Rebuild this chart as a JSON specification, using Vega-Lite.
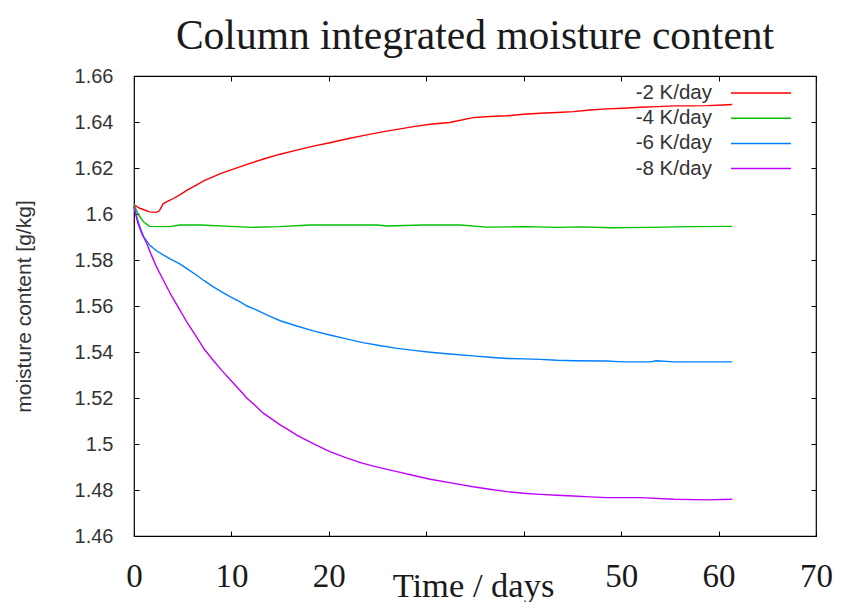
{
  "$schema": "https://vega.github.io/schema/vega-lite/v6.json",
  "width": 682,
  "height": 460,
  "autosize": {"type": "none"},
  "padding": {"left": 134, "top": 76, "right": 37, "bottom": 66},
  "background": "white",
  "title": {"text": "Column integrated moisture content", "font": "Liberation Serif", "fontSize": 41.5, "fontWeight": "normal", "color": "#1a1a1a", "anchor": "middle", "offset": 17, "baseline": "alphabetic", "dy": 41},
  "config": {"view": {"stroke": "#000", "strokeWidth": 1.2}, "axis": {"grid": false, "domain": false}},
  "data": {"values": [
      {"series": "-2 K/day", "day": 0, "moisture": 1.604},
      {"series": "-2 K/day", "day": 0.6, "moisture": 1.6025},
      {"series": "-2 K/day", "day": 1.6, "moisture": 1.6009},
      {"series": "-2 K/day", "day": 2.3, "moisture": 1.6007},
      {"series": "-2 K/day", "day": 2.6, "moisture": 1.6014},
      {"series": "-2 K/day", "day": 3.0, "moisture": 1.6045},
      {"series": "-2 K/day", "day": 3.8, "moisture": 1.6062},
      {"series": "-2 K/day", "day": 4.7, "moisture": 1.6083},
      {"series": "-2 K/day", "day": 5.5, "moisture": 1.6105},
      {"series": "-2 K/day", "day": 6.4, "moisture": 1.6126},
      {"series": "-2 K/day", "day": 7.2, "moisture": 1.6145},
      {"series": "-2 K/day", "day": 8.1, "moisture": 1.6161},
      {"series": "-2 K/day", "day": 9.0, "moisture": 1.6178},
      {"series": "-2 K/day", "day": 9.9, "moisture": 1.6191},
      {"series": "-2 K/day", "day": 11.6, "moisture": 1.6216},
      {"series": "-2 K/day", "day": 13.3, "moisture": 1.6239},
      {"series": "-2 K/day", "day": 15.0, "moisture": 1.626},
      {"series": "-2 K/day", "day": 16.7, "moisture": 1.6278},
      {"series": "-2 K/day", "day": 18.4, "moisture": 1.6295},
      {"series": "-2 K/day", "day": 20.1, "moisture": 1.631},
      {"series": "-2 K/day", "day": 21.8, "moisture": 1.6326},
      {"series": "-2 K/day", "day": 23.5, "moisture": 1.6341},
      {"series": "-2 K/day", "day": 25.2, "moisture": 1.6355},
      {"series": "-2 K/day", "day": 27.0, "moisture": 1.6368},
      {"series": "-2 K/day", "day": 28.7, "moisture": 1.638},
      {"series": "-2 K/day", "day": 30.4, "moisture": 1.639},
      {"series": "-2 K/day", "day": 32.4, "moisture": 1.6398},
      {"series": "-2 K/day", "day": 34.8, "moisture": 1.6419},
      {"series": "-2 K/day", "day": 36.5, "moisture": 1.6424},
      {"series": "-2 K/day", "day": 38.3, "moisture": 1.6427},
      {"series": "-2 K/day", "day": 40.0, "moisture": 1.6434},
      {"series": "-2 K/day", "day": 41.7, "moisture": 1.6438},
      {"series": "-2 K/day", "day": 43.4, "moisture": 1.6441},
      {"series": "-2 K/day", "day": 45.1, "moisture": 1.6445},
      {"series": "-2 K/day", "day": 46.8, "moisture": 1.6452},
      {"series": "-2 K/day", "day": 48.5, "moisture": 1.6457},
      {"series": "-2 K/day", "day": 50.2, "moisture": 1.646},
      {"series": "-2 K/day", "day": 52.0, "moisture": 1.6464},
      {"series": "-2 K/day", "day": 53.7, "moisture": 1.6467},
      {"series": "-2 K/day", "day": 55.4, "moisture": 1.647},
      {"series": "-2 K/day", "day": 57.1, "moisture": 1.647},
      {"series": "-2 K/day", "day": 58.8, "moisture": 1.6471},
      {"series": "-2 K/day", "day": 60.5, "moisture": 1.6474},
      {"series": "-2 K/day", "day": 61.4, "moisture": 1.6476},
      {"series": "-4 K/day", "day": 0, "moisture": 1.604},
      {"series": "-4 K/day", "day": 0.3, "moisture": 1.601},
      {"series": "-4 K/day", "day": 0.6, "moisture": 1.5988},
      {"series": "-4 K/day", "day": 1.0, "moisture": 1.5965},
      {"series": "-4 K/day", "day": 1.6, "moisture": 1.5946},
      {"series": "-4 K/day", "day": 3.7, "moisture": 1.5945},
      {"series": "-4 K/day", "day": 4.7, "moisture": 1.5952},
      {"series": "-4 K/day", "day": 6.8, "moisture": 1.5952},
      {"series": "-4 K/day", "day": 9.9, "moisture": 1.5946},
      {"series": "-4 K/day", "day": 12.2, "moisture": 1.5942},
      {"series": "-4 K/day", "day": 14.9, "moisture": 1.5945},
      {"series": "-4 K/day", "day": 18.1, "moisture": 1.5952},
      {"series": "-4 K/day", "day": 24.9, "moisture": 1.5952},
      {"series": "-4 K/day", "day": 26.0, "moisture": 1.5948},
      {"series": "-4 K/day", "day": 29.7, "moisture": 1.5952},
      {"series": "-4 K/day", "day": 33.5, "moisture": 1.5952},
      {"series": "-4 K/day", "day": 36.2, "moisture": 1.5943},
      {"series": "-4 K/day", "day": 40.3, "moisture": 1.5945},
      {"series": "-4 K/day", "day": 43.4, "moisture": 1.5942},
      {"series": "-4 K/day", "day": 46.0, "moisture": 1.5944},
      {"series": "-4 K/day", "day": 48.9, "moisture": 1.594},
      {"series": "-4 K/day", "day": 53.0, "moisture": 1.5942},
      {"series": "-4 K/day", "day": 57.1, "moisture": 1.5945},
      {"series": "-4 K/day", "day": 61.4, "moisture": 1.5946},
      {"series": "-6 K/day", "day": 0, "moisture": 1.6032},
      {"series": "-6 K/day", "day": 0.3, "moisture": 1.5985},
      {"series": "-6 K/day", "day": 0.6, "moisture": 1.5945},
      {"series": "-6 K/day", "day": 1.0, "moisture": 1.59},
      {"series": "-6 K/day", "day": 1.6, "moisture": 1.5865},
      {"series": "-6 K/day", "day": 2.3, "moisture": 1.584},
      {"series": "-6 K/day", "day": 3.0, "moisture": 1.5822},
      {"series": "-6 K/day", "day": 3.8, "moisture": 1.5803},
      {"series": "-6 K/day", "day": 4.7, "moisture": 1.5783},
      {"series": "-6 K/day", "day": 5.5, "moisture": 1.576},
      {"series": "-6 K/day", "day": 6.4, "moisture": 1.5735},
      {"series": "-6 K/day", "day": 7.2, "moisture": 1.571},
      {"series": "-6 K/day", "day": 8.1, "moisture": 1.5684},
      {"series": "-6 K/day", "day": 9.0, "moisture": 1.5661},
      {"series": "-6 K/day", "day": 9.9, "moisture": 1.564},
      {"series": "-6 K/day", "day": 10.8, "moisture": 1.562},
      {"series": "-6 K/day", "day": 11.6, "moisture": 1.56},
      {"series": "-6 K/day", "day": 12.5, "moisture": 1.5584},
      {"series": "-6 K/day", "day": 13.3, "moisture": 1.5568},
      {"series": "-6 K/day", "day": 14.2, "moisture": 1.5551},
      {"series": "-6 K/day", "day": 15.0, "moisture": 1.5536},
      {"series": "-6 K/day", "day": 15.9, "moisture": 1.5524},
      {"series": "-6 K/day", "day": 16.7, "moisture": 1.5513},
      {"series": "-6 K/day", "day": 18.4, "moisture": 1.5492},
      {"series": "-6 K/day", "day": 20.1, "moisture": 1.5474},
      {"series": "-6 K/day", "day": 21.8, "moisture": 1.5457},
      {"series": "-6 K/day", "day": 23.5, "moisture": 1.5441},
      {"series": "-6 K/day", "day": 25.2, "moisture": 1.5428},
      {"series": "-6 K/day", "day": 27.0, "moisture": 1.5416},
      {"series": "-6 K/day", "day": 28.7, "moisture": 1.5407},
      {"series": "-6 K/day", "day": 30.4, "moisture": 1.5399},
      {"series": "-6 K/day", "day": 32.4, "moisture": 1.5391},
      {"series": "-6 K/day", "day": 34.8, "moisture": 1.5383},
      {"series": "-6 K/day", "day": 36.5, "moisture": 1.5377},
      {"series": "-6 K/day", "day": 38.3, "moisture": 1.5372},
      {"series": "-6 K/day", "day": 40.0, "moisture": 1.537},
      {"series": "-6 K/day", "day": 41.7, "moisture": 1.5368},
      {"series": "-6 K/day", "day": 43.4, "moisture": 1.5364},
      {"series": "-6 K/day", "day": 45.1, "moisture": 1.5362},
      {"series": "-6 K/day", "day": 48.5, "moisture": 1.5361},
      {"series": "-6 K/day", "day": 50.2, "moisture": 1.5357},
      {"series": "-6 K/day", "day": 53.0, "moisture": 1.5357},
      {"series": "-6 K/day", "day": 53.6, "moisture": 1.5362},
      {"series": "-6 K/day", "day": 55.4, "moisture": 1.5357},
      {"series": "-6 K/day", "day": 58.0, "moisture": 1.5357},
      {"series": "-6 K/day", "day": 61.4, "moisture": 1.5357},
      {"series": "-8 K/day", "day": 0, "moisture": 1.6032},
      {"series": "-8 K/day", "day": 0.4, "moisture": 1.596},
      {"series": "-8 K/day", "day": 0.8, "moisture": 1.5915},
      {"series": "-8 K/day", "day": 1.3, "moisture": 1.5873},
      {"series": "-8 K/day", "day": 1.8, "moisture": 1.582},
      {"series": "-8 K/day", "day": 2.3, "moisture": 1.5771},
      {"series": "-8 K/day", "day": 3.0, "moisture": 1.5713},
      {"series": "-8 K/day", "day": 3.8, "moisture": 1.5648},
      {"series": "-8 K/day", "day": 4.7, "moisture": 1.5583},
      {"series": "-8 K/day", "day": 5.5, "moisture": 1.5525},
      {"series": "-8 K/day", "day": 6.4, "moisture": 1.5467},
      {"series": "-8 K/day", "day": 7.2, "moisture": 1.5413},
      {"series": "-8 K/day", "day": 8.1, "moisture": 1.5365},
      {"series": "-8 K/day", "day": 9.0, "moisture": 1.532},
      {"series": "-8 K/day", "day": 9.9, "moisture": 1.5278},
      {"series": "-8 K/day", "day": 10.8, "moisture": 1.5237},
      {"series": "-8 K/day", "day": 11.6, "moisture": 1.5199},
      {"series": "-8 K/day", "day": 12.5, "moisture": 1.5165},
      {"series": "-8 K/day", "day": 13.3, "moisture": 1.5133},
      {"series": "-8 K/day", "day": 14.2, "moisture": 1.5107},
      {"series": "-8 K/day", "day": 15.0, "moisture": 1.5083},
      {"series": "-8 K/day", "day": 15.9, "moisture": 1.506},
      {"series": "-8 K/day", "day": 16.7, "moisture": 1.5039},
      {"series": "-8 K/day", "day": 18.4, "moisture": 1.5002},
      {"series": "-8 K/day", "day": 20.1, "moisture": 1.4967},
      {"series": "-8 K/day", "day": 21.8, "moisture": 1.494},
      {"series": "-8 K/day", "day": 23.5, "moisture": 1.4916},
      {"series": "-8 K/day", "day": 25.2, "moisture": 1.4897},
      {"series": "-8 K/day", "day": 27.0, "moisture": 1.488},
      {"series": "-8 K/day", "day": 28.7, "moisture": 1.4863},
      {"series": "-8 K/day", "day": 30.4, "moisture": 1.4847},
      {"series": "-8 K/day", "day": 32.4, "moisture": 1.4832},
      {"series": "-8 K/day", "day": 34.8, "moisture": 1.4814},
      {"series": "-8 K/day", "day": 36.5, "moisture": 1.4803},
      {"series": "-8 K/day", "day": 38.3, "moisture": 1.4793},
      {"series": "-8 K/day", "day": 40.0, "moisture": 1.4786},
      {"series": "-8 K/day", "day": 41.7, "moisture": 1.4781},
      {"series": "-8 K/day", "day": 43.4, "moisture": 1.4777},
      {"series": "-8 K/day", "day": 45.1, "moisture": 1.4774},
      {"series": "-8 K/day", "day": 46.8, "moisture": 1.477},
      {"series": "-8 K/day", "day": 48.5, "moisture": 1.4767},
      {"series": "-8 K/day", "day": 52.0, "moisture": 1.4767},
      {"series": "-8 K/day", "day": 55.4, "moisture": 1.476},
      {"series": "-8 K/day", "day": 58.8, "moisture": 1.4757},
      {"series": "-8 K/day", "day": 61.4, "moisture": 1.476}
  ]},
  "layer": [
    {
      "mark": {"type": "line", "strokeWidth": 1.4},
      "encoding": {
        "x": {"field": "day", "type": "quantitative", "scale": {"domain": [0, 70], "nice": false, "zero": false},
          "axis": {"orient": "bottom", "values": [0, 10, 20, 30, 40, 50, 60, 70], "tickSize": -5, "tickColor": "#000", "tickWidth": 1,
            "labelFont": "Liberation Serif", "labelFontSize": 33, "labelColor": "#1a1a1a", "labelBaseline": "alphabetic", "labelPadding": 55,
            "labelFlush": false, "labelOverlap": false, "labelExpr": "datum.value == 30 || datum.value == 40 ? '' : datum.label",
            "title": "Time / days", "titleFont": "Liberation Serif", "titleFontSize": 34.5, "titleFontWeight": "normal", "titleColor": "#1a1a1a",
            "titleX": 339, "titleY": 60, "titleBaseline": "alphabetic", "titleAlign": "center"}},
        "y": {"field": "moisture", "type": "quantitative", "scale": {"domain": [1.46, 1.66], "nice": false, "zero": false},
          "axis": {"orient": "left", "values": [1.46, 1.48, 1.5, 1.52, 1.54, 1.56, 1.58, 1.6, 1.62, 1.64, 1.66], "format": "~g", "tickSize": -5, "tickColor": "#000", "tickWidth": 1,
            "labelFont": "Liberation Sans", "labelFontSize": 20, "labelColor": "#333", "labelPadding": 26, "labelFlush": false, "labelOverlap": false,
            "title": "moisture content [g/kg]", "titleFont": "Liberation Sans", "titleFontSize": 21, "titleFontWeight": "normal", "titleColor": "#333",
            "titleX": -104, "titleY": 230, "titleBaseline": "alphabetic", "titleAlign": "center", "titleAngle": -90}},
        "color": {"field": "series", "type": "nominal",
          "scale": {"domain": ["-2 K/day", "-4 K/day", "-6 K/day", "-8 K/day"], "range": ["#ff0000", "#00c000", "#0080ff", "#c000ff"]},
          "legend": {"orient": "none", "legendX": 616, "legendY": 6, "direction": "vertical", "title": null, "padding": 0,
            "symbolType": "M-3,0H3", "symbolSize": 400, "symbolStrokeWidth": 1.5, "symbolFillColor": "transparent",
            "labelAlign": "right", "labelOffset": -60, "labelFont": "Liberation Sans", "labelFontSize": 20.5, "labelColor": "#333",
            "rowPadding": 3.2, "labelLimit": 300}}
      }
    },
    {
      "mark": {"type": "point", "opacity": 0, "size": 0},
      "encoding": {
        "x": {"field": "day", "type": "quantitative",
          "axis": {"orient": "top", "values": [0, 10, 20, 30, 40, 50, 60, 70], "tickSize": -5, "tickColor": "#000", "tickWidth": 1, "labels": false, "title": null}},
        "y": {"field": "moisture", "type": "quantitative",
          "axis": {"orient": "right", "values": [1.46, 1.48, 1.5, 1.52, 1.54, 1.56, 1.58, 1.6, 1.62, 1.64, 1.66], "tickSize": -5, "tickColor": "#000", "tickWidth": 1, "labels": false, "title": null}}
      }
    }
  ],
  "resolve": {"axis": {"x": "independent", "y": "independent"}}
}
